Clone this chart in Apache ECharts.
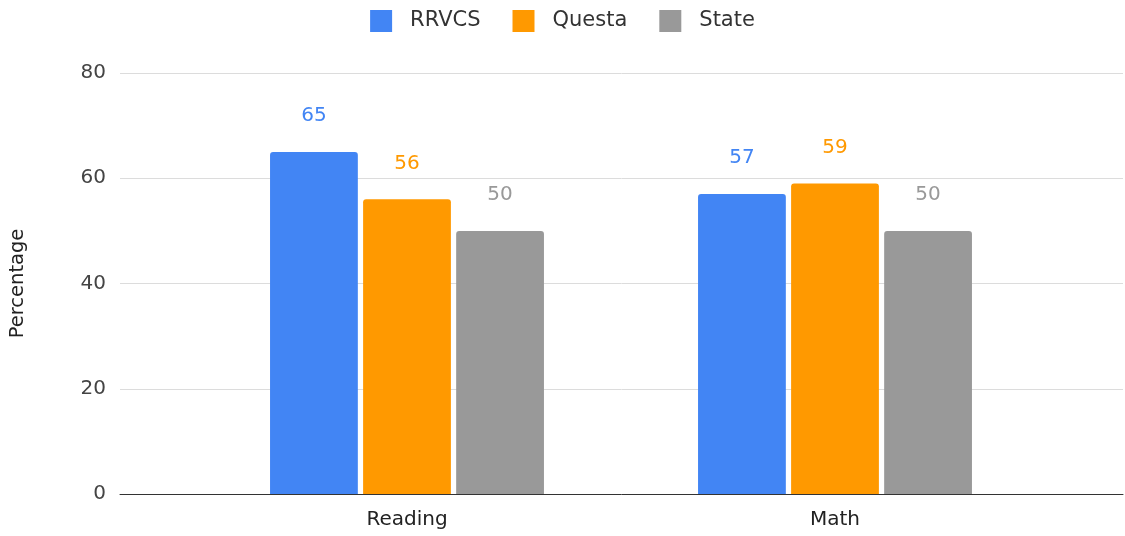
<!DOCTYPE html>
<html>
<head>
<meta charset="utf-8">
<script src="https://cdn.jsdelivr.net/npm/echarts@6/dist/echarts.min.js"></script>
<style>
  html, body { margin: 0; padding: 0; background: #fff; }
  #chart { width: 1125px; height: 536px; }
</style>
</head>
<body>
<div id="chart"></div>
<script>
// data
const categories = ["Reading", "Math"];
const rrvcs = [65, 57];
const questa = [56, 59];
const state = [50, 50];
const yTicks = [0, 20, 40, 60, 80];

const font = "DejaVu Sans, sans-serif";
const colors = ["#4285f4", "#ff9900", "#999999"];

function barSeries(name, data, color) {
  return {
    name: name,
    type: "bar",
    xAxisIndex: 1,
    yAxisIndex: 1,
    data: data,
    barGap: "6%",
    barCategoryGap: "36%",
    itemStyle: { color: color, borderRadius: [3, 3, 0, 0] },
    label: {
      show: true,
      position: "top",
      distance: 26,
      color: color,
      fontSize: 20,
      fontFamily: font
    }
  };
}

const chart = echarts.init(document.getElementById("chart"));
chart.setOption({
  animation: false,
  legend: {
    top: 5,
    left: "center",
    itemWidth: 22,
    itemHeight: 22,
    itemGap: 32,
    icon: "rect",
    textStyle: { fontSize: 21, color: "#333", fontFamily: font, padding: [0, 0, 0, 13] },
    data: ["RRVCS", "Questa", "State"]
  },
  grid: [
    { left: 120, right: 2, top: 73, bottom: 42 },
    { left: 193, right: 76, top: 73, bottom: 42 }
  ],
  xAxis: [
    {
      gridIndex: 0,
      type: "value",
      min: 0,
      max: 1,
      axisLine: { show: true, onZero: false, lineStyle: { color: "#333", width: 1 } },
      axisTick: { show: false },
      axisLabel: { show: false },
      splitLine: { show: false }
    },
    {
      gridIndex: 1,
      type: "category",
      data: categories,
      axisLine: { show: false },
      axisTick: { show: false },
      axisLabel: { fontSize: 20, color: "#222", margin: 16, fontFamily: font }
    }
  ],
  yAxis: [
    {
      gridIndex: 0,
      type: "value",
      min: yTicks[0],
      max: yTicks[yTicks.length - 1],
      interval: 20,
      name: "Percentage",
      nameLocation: "middle",
      nameGap: 92,
      nameTextStyle: { fontSize: 19.5, color: "#222", fontFamily: font },
      axisLine: { show: false },
      axisTick: { show: false },
      axisLabel: { fontSize: 20, color: "#444", margin: 14, fontFamily: font },
      splitLine: { lineStyle: { color: "#dcdcdc", width: 1 } }
    },
    {
      gridIndex: 1,
      type: "value",
      min: yTicks[0],
      max: yTicks[yTicks.length - 1],
      show: false,
      splitLine: { show: false }
    }
  ],
  series: [
    barSeries("RRVCS", rrvcs, colors[0]),
    barSeries("Questa", questa, colors[1]),
    barSeries("State", state, colors[2])
  ]
});
</script>
</body>
</html>
